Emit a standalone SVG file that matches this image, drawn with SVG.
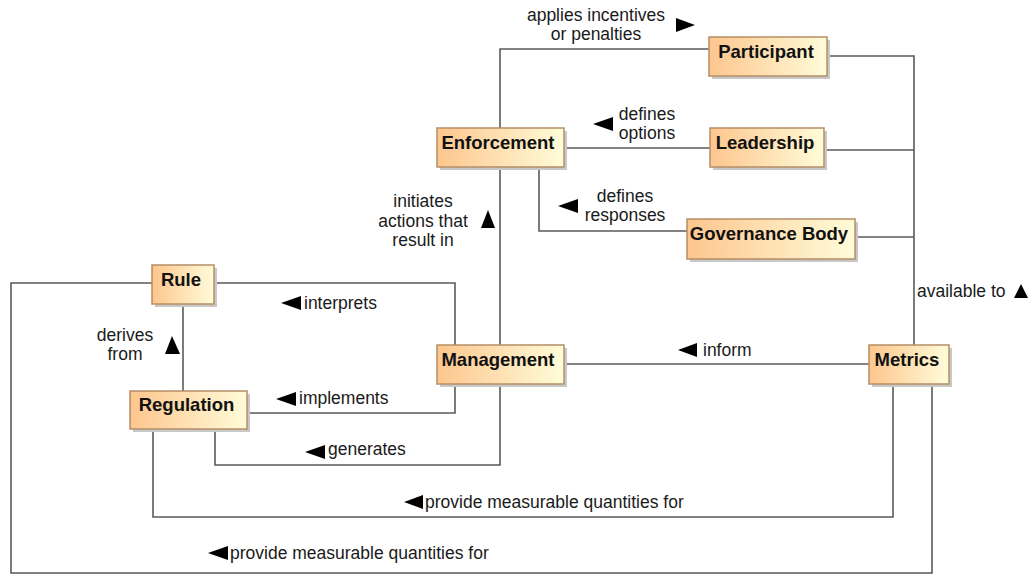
<svg xmlns="http://www.w3.org/2000/svg" width="1028" height="576" viewBox="0 0 1028 576">
  <defs>
    <linearGradient id="nodeFill" x1="0" y1="0" x2="1" y2="0">
      <stop offset="0" stop-color="#FDC68E"/>
      <stop offset="1" stop-color="#FFFCD9"/>
    </linearGradient>
  </defs>
  <style>
    .shadow{fill:#C8C8C8}
    .box{fill:url(#nodeFill);stroke:#B48E66;stroke-width:1.5}
    .name{font-family:"Liberation Sans",Arial,sans-serif;font-weight:bold;font-size:18.5px;fill:#111;text-anchor:middle}
    .edge{fill:none;stroke:#5A5A5A;stroke-width:1.6}
    .lbl{font-family:"Liberation Sans",Arial,sans-serif;font-size:17.5px;fill:#1A1A1A}
    .mid{text-anchor:middle}
    .tri{fill:#000}
  </style>

  <rect width="1028" height="576" fill="#FFFFFF"/>

  <!-- connectors -->
  <g id="connectors">
    <path class="edge" d="M500,128 V49 H709"/>
    <path class="edge" d="M564,148 H710"/>
    <path class="edge" d="M539,167 V231 H687"/>
    <path class="edge" d="M500,167 V345"/>
    <path class="edge" d="M827,56 H914 V345"/>
    <path class="edge" d="M824,150 H914"/>
    <path class="edge" d="M855,237 H914"/>
    <path class="edge" d="M564,364 H869"/>
    <path class="edge" d="M214,283 H455 V345"/>
    <path class="edge" d="M247,413 H455 V384"/>
    <path class="edge" d="M215,429 V465 H500 V384"/>
    <path class="edge" d="M183,304 V391"/>
    <path class="edge" d="M152,283 H11 V573 H932 V384"/>
    <path class="edge" d="M153,429 V517 H893 V384"/>

    <!-- direction markers -->
    <polygon class="tri" points="676,18 676,32 695,25"/>
    <polygon class="tri" points="593,124 613,117 613,131"/>
    <polygon class="tri" points="558,206 578,199 578,213"/>
    <polygon class="tri" points="488,210 481,228 495,228"/>
    <polygon class="tri" points="1021,284 1014,298 1028,298"/>
    <polygon class="tri" points="678,350 697,343 697,357"/>
    <polygon class="tri" points="281,303 301,296 301,310"/>
    <polygon class="tri" points="276,399 296,392 296,406"/>
    <polygon class="tri" points="305,452 325,445 325,459"/>
    <polygon class="tri" points="172,336 165,354 180,354"/>
    <polygon class="tri" points="404,502 423,495 423,509"/>
    <polygon class="tri" points="208,553 228,546 228,560"/>

    <!-- connector labels -->
    <text class="lbl mid" x="596" y="20.5">applies incentives</text>
    <text class="lbl mid" x="596" y="40">or penalties</text>
    <text class="lbl mid" x="647" y="120">defines</text>
    <text class="lbl mid" x="647" y="139">options</text>
    <text class="lbl mid" x="625" y="202">defines</text>
    <text class="lbl mid" x="625" y="221">responses</text>
    <text class="lbl mid" x="423" y="207">initiates</text>
    <text class="lbl mid" x="423" y="226.5">actions that</text>
    <text class="lbl mid" x="423" y="246">result in</text>
    <text class="lbl" x="917" y="297">available to</text>
    <text class="lbl" x="703" y="356">inform</text>
    <text class="lbl" x="304" y="309">interprets</text>
    <text class="lbl" x="299" y="404">implements</text>
    <text class="lbl" x="328" y="455">generates</text>
    <text class="lbl mid" x="125" y="341">derives</text>
    <text class="lbl mid" x="125" y="360">from</text>
    <text class="lbl" x="425" y="508">provide measurable quantities for</text>
    <text class="lbl" x="230" y="559">provide measurable quantities for</text>
  </g>

  <!-- nodes -->
  <g id="participant">
    <rect class="shadow" x="712" y="40" width="118" height="39"/>
    <rect class="box" x="709" y="37" width="118" height="39"/>
    <text class="name" x="766" y="58">Participant</text>
  </g>
  <g id="enforcement">
    <rect class="shadow" x="440" y="131" width="127" height="39"/>
    <rect class="box" x="437" y="128" width="127" height="39"/>
    <text class="name" x="498" y="149">Enforcement</text>
  </g>
  <g id="leadership">
    <rect class="shadow" x="713" y="131" width="114" height="39"/>
    <rect class="box" x="710" y="128" width="114" height="39"/>
    <text class="name" x="765" y="149">Leadership</text>
  </g>
  <g id="governance-body">
    <rect class="shadow" x="690" y="222" width="168" height="40"/>
    <rect class="box" x="687" y="219" width="168" height="40"/>
    <text class="name" x="769" y="240">Governance Body</text>
  </g>
  <g id="rule">
    <rect class="shadow" x="155" y="268" width="62" height="39"/>
    <rect class="box" x="152" y="265" width="62" height="39"/>
    <text class="name" x="181" y="286">Rule</text>
  </g>
  <g id="regulation">
    <rect class="shadow" x="133" y="394" width="117" height="38"/>
    <rect class="box" x="130" y="391" width="117" height="38"/>
    <text class="name" x="186.5" y="411">Regulation</text>
  </g>
  <g id="management">
    <rect class="shadow" x="440" y="348" width="127" height="39"/>
    <rect class="box" x="437" y="345" width="127" height="39"/>
    <text class="name" x="498" y="366">Management</text>
  </g>
  <g id="metrics">
    <rect class="shadow" x="872" y="348" width="80" height="39"/>
    <rect class="box" x="869" y="345" width="80" height="39"/>
    <text class="name" x="907" y="366">Metrics</text>
  </g>
</svg>
